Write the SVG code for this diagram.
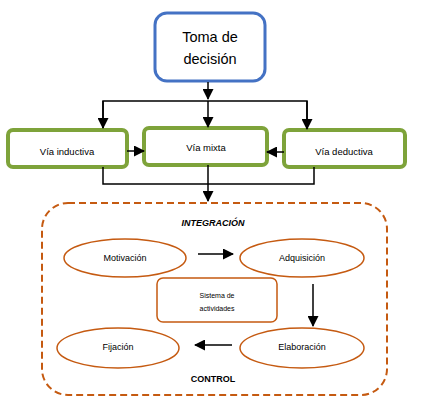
<svg xmlns="http://www.w3.org/2000/svg" width="422" height="414" viewBox="0 0 422 414">
<style>
.t{font-family:"Liberation Sans",Arial,sans-serif;fill:#000;text-anchor:middle;dominant-baseline:central}
.c{fill:none;stroke:#000;stroke-width:1.5}
.g{fill:#fff;stroke:#7ea33a;stroke-width:4}
.o{fill:#fff;stroke:#c55a11;stroke-width:1.5}
</style>
<defs>
<marker id="ah" markerWidth="11" markerHeight="11" refX="10" refY="5.5" orient="auto" markerUnits="userSpaceOnUse">
<path d="M0,0 L11,5.5 L0,11 Z" fill="#000"/>
</marker>
</defs>
<rect width="422" height="414" fill="#fff"/>
<g id="integracion">
<rect x="42" y="203" width="345" height="192" rx="26" fill="none" stroke="#c55a11" stroke-width="2" stroke-dasharray="7 4"/>
<text class="t" x="213" y="223" font-size="9" font-weight="bold" font-style="italic">INTEGRACIÓN</text>
<text class="t" x="213" y="379" font-size="9" font-weight="bold">CONTROL</text>
</g>
<g id="toma">
<rect x="155" y="13" width="110" height="68" rx="12" fill="#fff" stroke="#4472c4" stroke-width="3"/>
<text class="t" x="210" y="37" font-size="14.5">Toma de</text>
<text class="t" x="210" y="59" font-size="14.5">decisión</text>
</g>
<g id="inductiva">
<rect class="g" x="8" y="130" width="119" height="37" rx="5"/>
<text class="t" x="67" y="151" font-size="9.5">Vía inductiva</text>
</g>
<g id="mixta">
<rect class="g" x="144" y="128" width="123" height="37" rx="5"/>
<text class="t" x="206" y="147" font-size="9.5">Vía mixta</text>
</g>
<g id="deductiva">
<rect class="g" x="284" y="130" width="121" height="37" rx="5"/>
<text class="t" x="344" y="151" font-size="9.5">Vía deductiva</text>
</g>
<g id="motivacion">
<ellipse class="o" cx="125" cy="258" rx="61" ry="19"/>
<text class="t" x="125" y="258" font-size="9">Motivación</text>
</g>
<g id="adquisicion">
<ellipse class="o" cx="302" cy="258" rx="62" ry="19"/>
<text class="t" x="302" y="258" font-size="9">Adquisición</text>
</g>
<g id="sistema">
<rect class="o" x="157" y="278" width="120" height="44" rx="6"/>
<text class="t" x="217" y="295" font-size="7">Sistema de</text>
<text class="t" x="217" y="308" font-size="7">actividades</text>
</g>
<g id="elaboracion">
<ellipse class="o" cx="302" cy="348" rx="62" ry="20"/>
<text class="t" x="302" y="347" font-size="9">Elaboración</text>
</g>
<g id="fijacion">
<ellipse class="o" cx="118" cy="348" rx="61" ry="20"/>
<text class="t" x="118" y="347" font-size="9">Fijación</text>
</g>
<g id="connectors">
<path class="c" d="M208,82 V99" marker-end="url(#ah)"/>
<path class="c" d="M103,128 V101 H307 V129"/>
<path class="c" d="M103,101 V128" marker-end="url(#ah)"/>
<path class="c" d="M208,101 V127" marker-end="url(#ah)"/>
<path class="c" d="M307,101 V129" marker-end="url(#ah)"/>
<path class="c" d="M127,151 H144" marker-end="url(#ah)"/>
<path class="c" d="M284,152 H267" marker-end="url(#ah)"/>
<path class="c" d="M103,167 V184 H314 V167"/>
<path class="c" d="M208,165 V201" marker-end="url(#ah)"/>
<path class="c" d="M198,254 H233" stroke-width="2" marker-end="url(#ah)"/>
<path class="c" d="M313,284 V326" marker-end="url(#ah)"/>
<path class="c" d="M232,345 H195" marker-end="url(#ah)"/>
</g>
</svg>
